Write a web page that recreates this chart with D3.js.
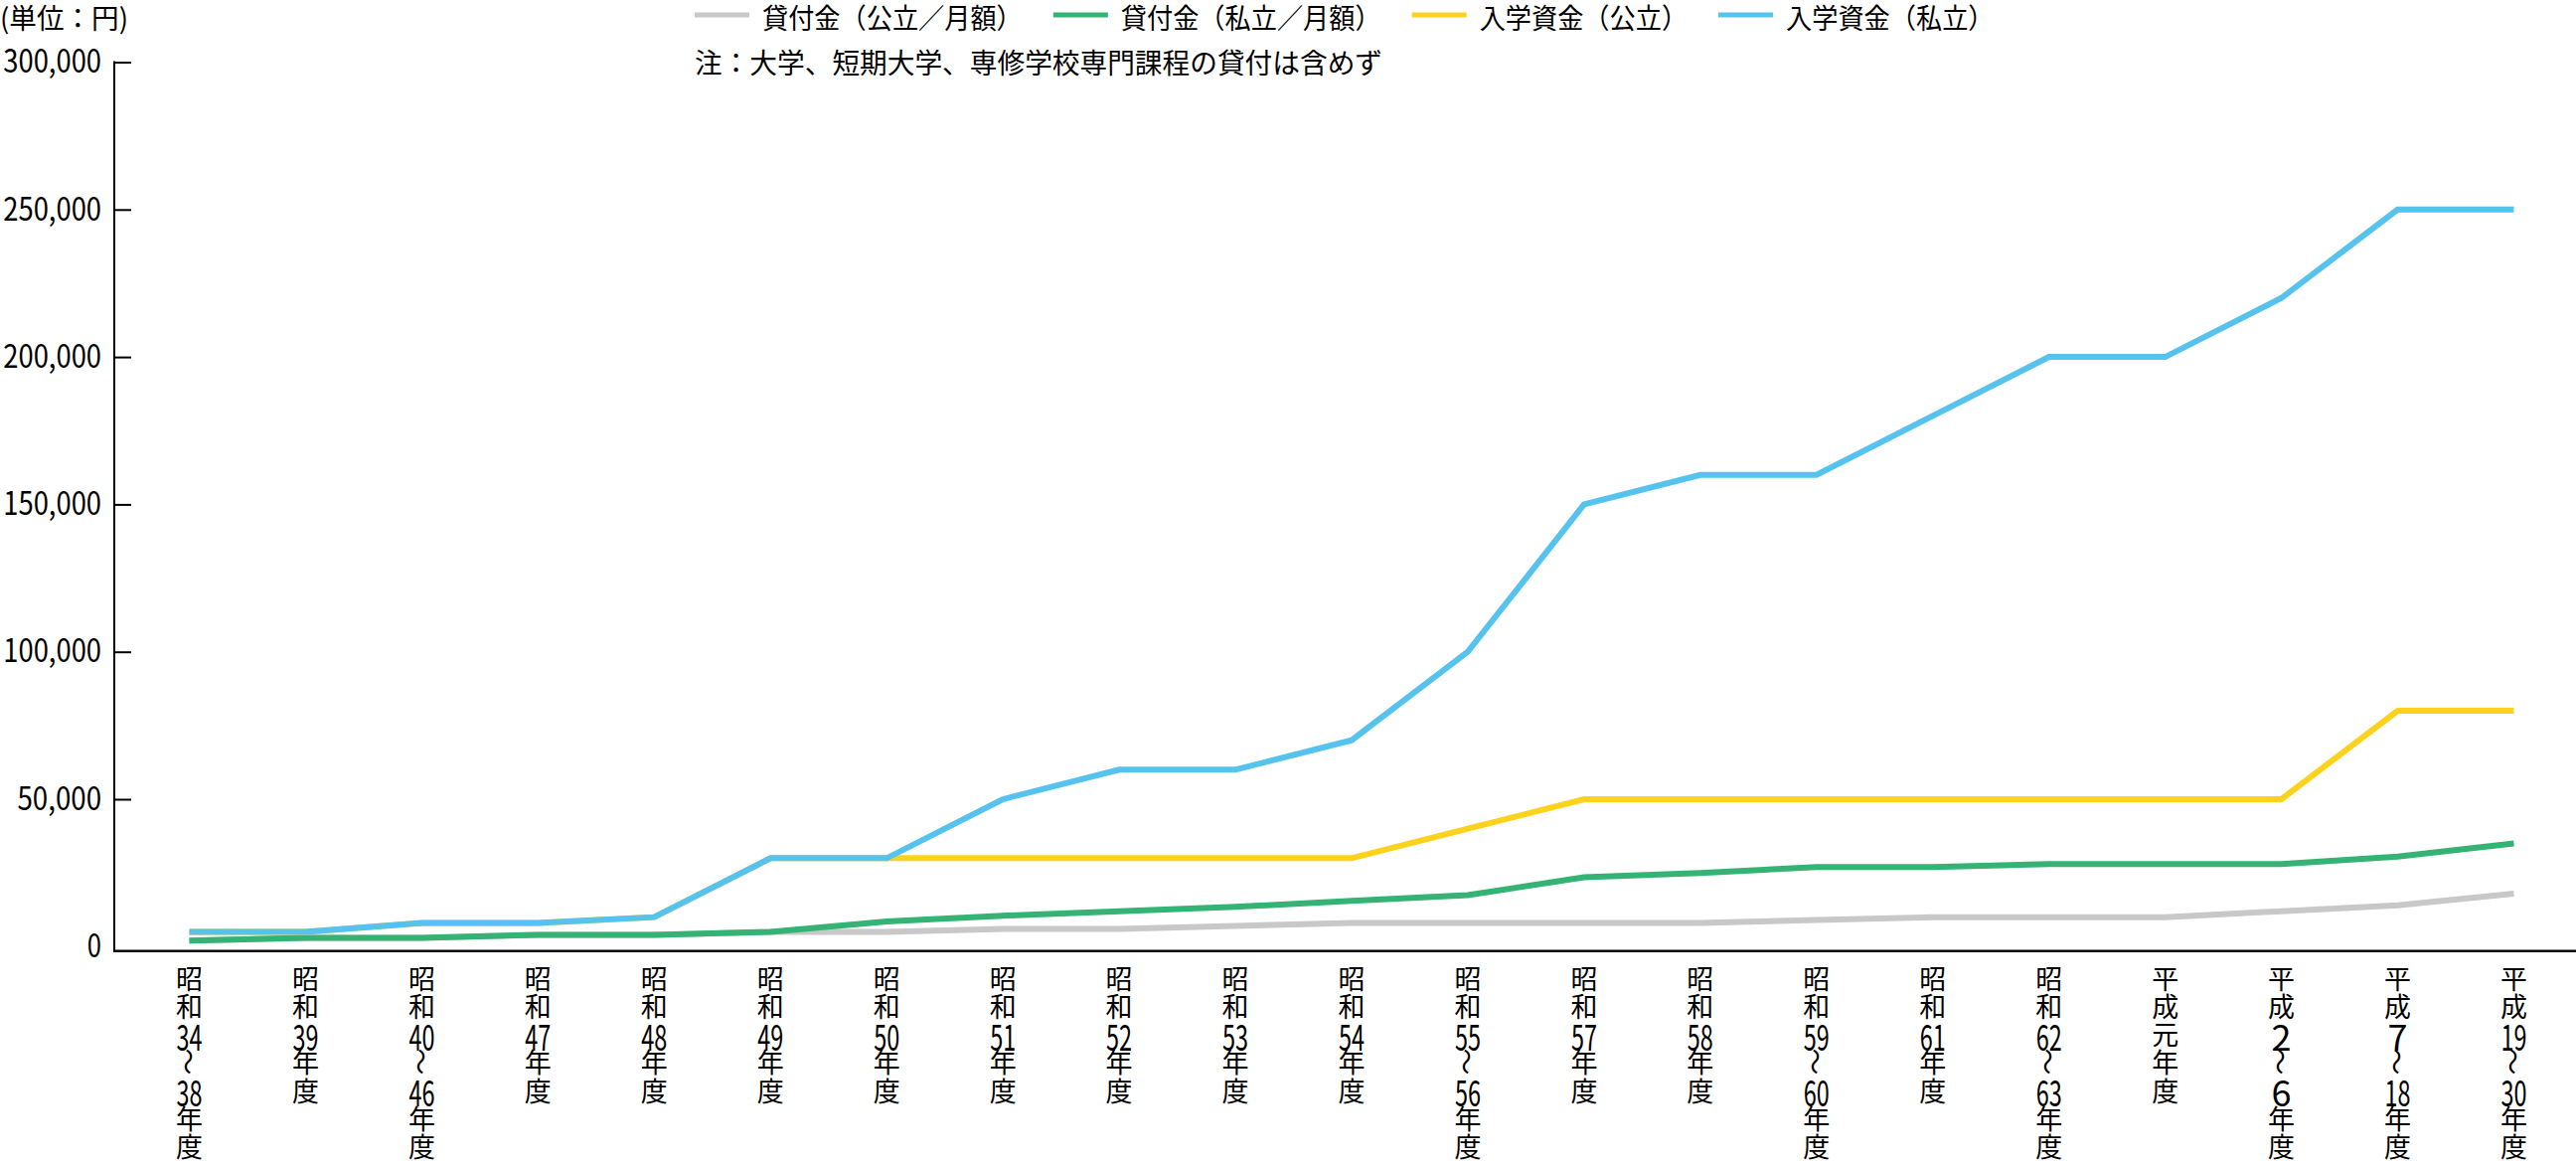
<!DOCTYPE html>
<html lang="ja">
<head>
<meta charset="utf-8">
<script src="https://cdn.jsdelivr.net/npm/d3@7"></script>
<style>
  html, body { margin: 0; padding: 0; background: #fff; }
  svg { display: block; }
  text { font-family: "Noto Sans CJK JP", "Noto Sans", sans-serif; fill: #000; }
</style>
</head>
<body>
<svg id="chart" width="2592" height="1172"></svg>
<script>
// ---------- data ----------
const categories = ["昭和34～38年度","昭和39年度","昭和40～46年度","昭和47年度","昭和48年度","昭和49年度","昭和50年度","昭和51年度","昭和52年度","昭和53年度","昭和54年度","昭和55～56年度","昭和57年度","昭和58年度","昭和59～60年度","昭和61年度","昭和62～63年度","平成元年度","平成2～6年度","平成7～18年度","平成19～30年度"];
const seriesNames = ["貸付金（公立／月額）","貸付金（私立／月額）","入学資金（公立）","入学資金（私立）"];
const loanPublic      = [2000,3000,3000,4000,4000,5000,5000,6000,6000,7000,8000,8000,8000,8000,9000,10000,10000,10000,12000,14000,18000];
const loanPrivate     = [2000,3000,3000,4000,4000,5000,8500,10500,12000,13500,15500,17500,23500,25000,27000,27000,28000,28000,28000,30500,35000];
const entrancePublic  = [5000,5000,8000,8000,10000,30000,30000,30000,30000,30000,30000,40000,50000,50000,50000,50000,50000,50000,50000,80000,80000];
const entrancePrivate = [5000,5000,8000,8000,10000,30000,30000,50000,60000,60000,70000,100000,150000,160000,160000,180000,200000,200000,220000,250000,250000];
const yTicks = [0,50000,100000,150000,200000,250000,300000];
const unitLabel = "(単位：円)";
const noteText = "注：大学、短期大学、専修学校専門課程の貸付は含めず";

// ---------- styles ----------
const colors = ["#c8c8c8","#34b374","#fdd21c","#56c3ef"];
const seriesData = [loanPublic, loanPrivate, entrancePublic, entrancePrivate];

const svg = d3.select("#chart");

const x = d3.scalePoint().domain(categories).range([190.5, 2529.5]);
const y = d3.scaleLinear().domain([0, 300000]).range([952.3, 62.5]);
const axisX = 115;
const axisY = 956.7;

// ---------- y axis ----------
const yAxis = d3.axisLeft(y)
  .tickValues(yTicks)
  .tickSizeInner(-17)
  .tickSizeOuter(0)
  .tickPadding(13)
  .tickFormat(d3.format(","));
const gy = svg.append("g").attr("transform", `translate(${axisX},0)`).call(yAxis);
gy.select(".domain").remove();
gy.selectAll(".tick line").attr("stroke", "#000").attr("stroke-width", 2)
  .filter(d => d === 0).remove();
gy.selectAll(".tick text")
  .attr("font-size", 32)
  .attr("font-family", "'Noto Sans CJK JP', sans-serif")
  .attr("fill", "#000")
  .each(function(d) {
    const s = d3.format(",")(d);
    const digits = (s.match(/\d/g) || []).length;
    const commas = (s.match(/,/g) || []).length;
    d3.select(this).attr("textLength", digits * 14.2 + commas * 13.5)
      .attr("lengthAdjust", "spacingAndGlyphs");
  });
svg.append("line")
  .attr("x1", axisX).attr("x2", axisX)
  .attr("y1", y(300000) - 1).attr("y2", axisY + 1)
  .attr("stroke", "#000").attr("stroke-width", 2);

// x axis baseline
svg.append("line")
  .attr("x1", axisX - 1).attr("x2", 2592)
  .attr("y1", axisY).attr("y2", axisY)
  .attr("stroke", "#000").attr("stroke-width", 2.5);

// ---------- lines ----------
const line = d3.line()
  .x((d, i) => x(categories[i]))
  .y(d => y(d));
seriesData.forEach((arr, k) => {
  svg.append("path")
    .datum(arr)
    .attr("d", line)
    .attr("fill", "none")
    .attr("stroke", colors[k])
    .attr("stroke-width", 6)
    .attr("stroke-linejoin", "miter")
    .attr("stroke-linecap", "butt");
});

// ---------- x labels (vertical) ----------
const labelTop = 983, pitch = 28.3, kFs = 27;
categories.forEach(cat => {
  const cx = x(cat);
  const tokens = cat.match(/\d+|./g);
  tokens.forEach((tk, j) => {
    const cy = labelTop + j * pitch;
    if (/^\d+$/.test(tk)) {
      const t = svg.append("text")
        .attr("x", cx).attr("y", cy + 1)
        .attr("text-anchor", "middle")
        .attr("dominant-baseline", "central")
        .attr("font-size", 36)
        .text(tk);
      const w = t.node().getComputedTextLength();
      if (w > 26) t.attr("textLength", 26).attr("lengthAdjust", "spacingAndGlyphs");
    } else if (tk === "～") {
      svg.append("text")
        .attr("transform", `translate(${cx},${cy}) rotate(90)`)
        .attr("text-anchor", "middle")
        .attr("dominant-baseline", "central")
        .attr("font-size", kFs)
        .text(tk);
    } else {
      svg.append("text")
        .attr("x", cx).attr("y", cy)
        .attr("text-anchor", "middle")
        .attr("dominant-baseline", "central")
        .attr("font-size", kFs)
        .text(tk);
    }
  });
});

// ---------- unit label ----------
const topY = 17;
svg.append("text")
  .attr("x", 0).attr("y", topY)
  .attr("dominant-baseline", "central")
  .attr("font-size", 28)
  .attr("textLength", 129)
  .attr("lengthAdjust", "spacingAndGlyphs")
  .text(unitLabel);

// ---------- legend ----------
let lx = 699;
const ly = 15;
seriesNames.forEach((name, k) => {
  svg.append("line")
    .attr("x1", lx).attr("x2", lx + 55)
    .attr("y1", ly).attr("y2", ly)
    .attr("stroke", colors[k]).attr("stroke-width", 5);
  const t = svg.append("text")
    .attr("x", lx + 68).attr("y", topY)
    .attr("dominant-baseline", "central")
    .attr("font-size", 28)
    .text(name);
  const w = t.node().getComputedTextLength() * 0.935;
  t.attr("textLength", w).attr("lengthAdjust", "spacingAndGlyphs");
  lx = lx + 68 + w + 31;
});

// ---------- note ----------
svg.append("text")
  .attr("x", 699).attr("y", 62)
  .attr("dominant-baseline", "central")
  .attr("font-size", 28)
  .attr("textLength", 692)
  .attr("lengthAdjust", "spacingAndGlyphs")
  .text(noteText);
</script>
</body>
</html>
